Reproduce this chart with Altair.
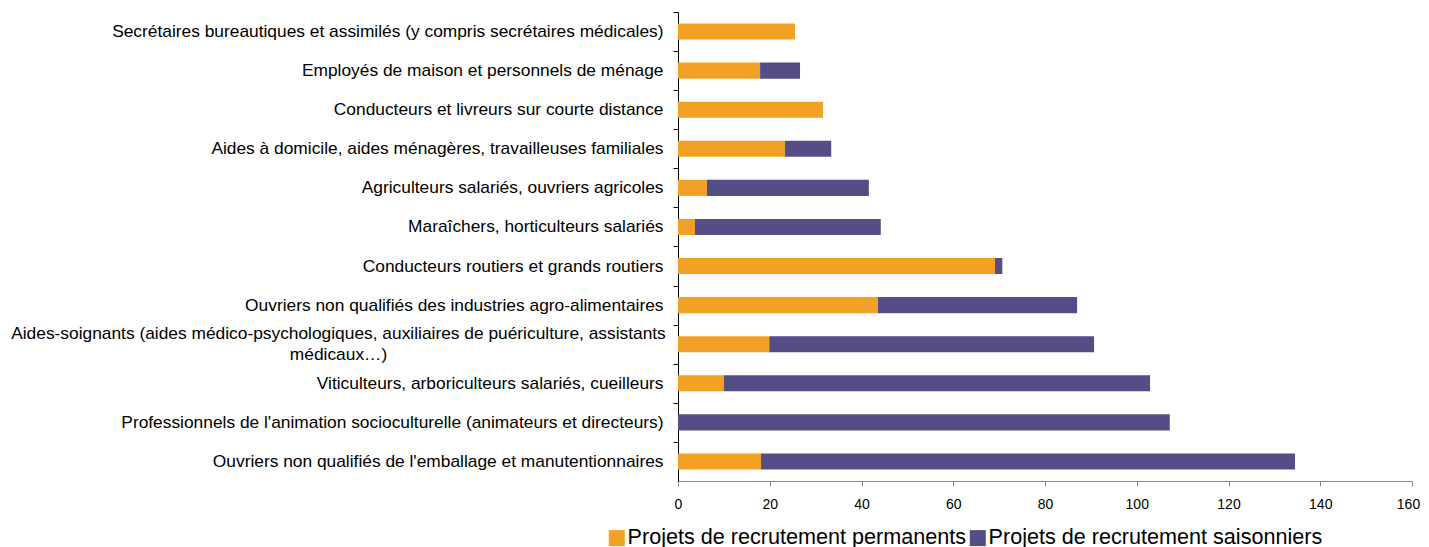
import altair as alt
import pandas as pd

aides_line1 = "Aides-soignants (aides médico-psychologiques, auxiliaires de puériculture, assistants"
aides_line2 = "médicaux…)"

categories = [
    "Secrétaires bureautiques et assimilés (y compris secrétaires médicales)",
    "Employés de maison et personnels de ménage",
    "Conducteurs et livreurs sur courte distance",
    "Aides à domicile, aides ménagères, travailleuses familiales",
    "Agriculteurs salariés, ouvriers agricoles",
    "Maraîchers, horticulteurs salariés",
    "Conducteurs routiers et grands routiers",
    "Ouvriers non qualifiés des industries agro-alimentaires",
    aides_line1 + " " + aides_line2,
    "Viticulteurs, arboriculteurs salariés, cueilleurs",
    "Professionnels de l'animation socioculturelle (animateurs et directeurs)",
    "Ouvriers non qualifiés de l'emballage et manutentionnaires",
]
permanents = [25.5, 17.9, 31.6, 23.3, 6.3, 3.7, 69.1, 43.6, 19.9, 10.0, 0.0, 18.1]
saisonniers = [0.0, 8.7, 0.0, 10.1, 35.3, 40.5, 1.6, 43.4, 70.8, 92.9, 107.2, 116.4]
series = ["Projets de recrutement permanents", "Projets de recrutement saisonniers"]
colors = ["#F3A126", "#544D86"]
x_ticks = [0, 20, 40, 60, 80, 100, 120, 140, 160]

rows = []
for c, p, s in zip(categories, permanents, saisonniers):
    rows.append({"cat": c, "serie": series[0], "val": p, "ord": 0})
    rows.append({"cat": c, "serie": series[1], "val": s, "ord": 1})
df = pd.DataFrame(rows)

H = 469
step = H / len(categories)

is_aides = "indexof(datum.value, 'Aides-soignants') == 0"
label_expr = f"{is_aides} ? ['{aides_line1}', '{aides_line2}'] : datum.label"

chart = (
    alt.Chart(df)
    .mark_bar()
    .encode(
        x=alt.X(
            "val:Q",
            stack="zero",
            scale=alt.Scale(domain=[0, 160], nice=False),
            axis=alt.Axis(
                values=x_ticks,
                title=None,
                grid=False,
                domainColor="#868686",
                tickColor="#868686",
                tickSize=5,
                labelPadding=11,
                labelFontSize=14,
                labelColor="#000000",
                labelFont="Liberation Sans",
                labelFlush=False,
                labelOffset={"condition": {"test": "datum.value == 160", "value": -4}, "value": 0},
            ),
        ),
        y=alt.Y(
            "cat:N",
            sort=categories,
            scale=alt.Scale(paddingInner=0.59, paddingOuter=0.295),
            axis=alt.Axis(
                title=None,
                labelExpr=label_expr,
                labelFontSize=17.35,
                labelFont="Liberation Sans",
                labelColor="#000000",
                labelLimit=0,
                tickOffset=-step / 2,
                labelPadding={"condition": {"test": is_aides, "value": 335}, "value": 10},
                labelAlign={"condition": {"test": is_aides, "value": "center"}, "value": "right"},
                labelOffset={"condition": {"test": is_aides, "value": step / 2 - 10.5}, "value": step / 2},
                labelLineHeight=21,
                tickSize=5,
                tickColor="#000000",
                domainColor="#000000",
            ),
        ),
        color=alt.Color(
            "serie:N",
            scale=alt.Scale(domain=series, range=colors),
            legend=alt.Legend(
                title=None,
                orient="none",
                direction="horizontal",
                legendX=-72,
                legendY=515,
                symbolType="square",
                symbolSize=256,
                symbolStrokeWidth=0,
                labelFontSize=21.6,
                labelFont="Liberation Sans",
                labelColor="#000000",
                labelOffset=0,
                columnPadding=0,
                padding=0,
                labelLimit=0,
            ),
        ),
        order=alt.Order("ord:Q"),
    )
    .properties(
        width=734,
        height=H,
        autosize=alt.AutoSizeParams(type="none"),
        padding={"left": 670, "top": 4, "right": 9, "bottom": 80},
    )
    .configure_view(stroke=None)
)

chart.save("out.html", embed_options={"renderer": "svg", "actions": False})
